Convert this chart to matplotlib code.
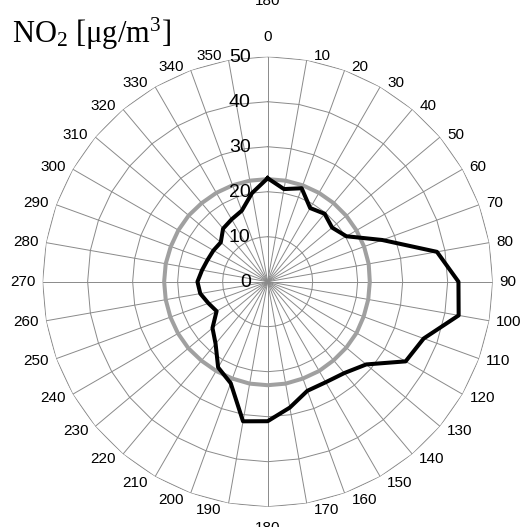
import numpy as np
import matplotlib.pyplot as plt
from matplotlib.transforms import offset_copy

plt.rcParams['font.family'] = ['Liberation Sans', 'DejaVu Sans']
plt.rcParams['mathtext.fontset'] = 'custom'
plt.rcParams['mathtext.rm'] = 'Liberation Serif'
plt.rcParams['mathtext.it'] = 'Liberation Serif:italic'

# wind direction sectors (deg) and NO2 concentrations
directions = [0, 10, 20, 30, 40, 50, 60, 70, 80, 90, 100, 110,
              120, 130, 140, 150, 160, 170, 180, 190, 200, 210, 220, 230,
              240, 250, 260, 270, 280, 290, 300, 310, 320, 330, 340, 350]
no2_by_dir = [23.0, 20.9, 22.1, 18.9, 19.7, 18.7, 20.2, 27.1, 38.2, 42.4, 43.1, 36.9,
              35.4, 28.6, 26.5, 25.8, 25.8, 28.4, 31.0, 31.5, 24.0, 22.0, 18.0, 16.0,
              13.1, 14.0, 15.2, 15.6, 14.8, 14.2, 13.9, 13.6, 15.4, 16.0, 16.8, 20.0]
no2_mean = [22.8, 22.8, 22.8, 22.8, 22.8, 22.8, 22.8, 22.8, 22.8, 22.7, 22.7, 22.7,
            22.8, 22.8, 22.8, 22.9, 22.9, 23.0, 23.0, 23.0, 22.9, 22.9, 22.9, 23.0,
            23.0, 23.0, 23.0, 23.0, 23.0, 22.9, 22.9, 22.9, 22.8, 22.8, 22.8, 22.8]
radial_ticks = [0, 10, 20, 30, 40, 50]

theta = np.deg2rad(directions)
theta_c = np.append(theta, theta[0])

fig = plt.figure(figsize=(5.29, 5.27), dpi=100)
ax = fig.add_axes([0.0806, 0.0366, 0.8507, 0.8577], projection='polar')
ax.set_theta_zero_location('N')
ax.set_theta_direction(-1)
ax.set_ylim(0, radial_ticks[-1])
ax.grid(False)
ax.spines['polar'].set_visible(False)
ax.set_xticks([])
ax.set_yticks([])

# polygon grid like a radar chart
grid_col = '#8a8a8a'
for r in radial_ticks[1:]:
    ax.plot(theta_c, [r] * len(theta_c), color=grid_col, lw=0.7, zorder=1)
for t in theta:
    ax.plot([t, t], [0, radial_ticks[-1]], color=grid_col, lw=0.7, zorder=1)

ax.plot(theta_c, np.append(no2_mean, no2_mean[0]), color='#a0a0a0', lw=2.9, zorder=3)
ax.plot(theta_c, np.append(no2_by_dir, no2_by_dir[0]), color='black', lw=2.9, zorder=4)

# direction labels placed outside the ring, excel style
for t, d in zip(theta, directions):
    s, c = np.sin(t), np.cos(t)
    if d == 0:
        ha, dx, dy = 'center', 0, 20
    elif d == 180:
        ha, dx, dy = 'center', 0, -21
    else:
        ha = 'left' if s > 0 else 'right'
        dx = 7 if s > 0 else -7
        dy = 4 * c if c > 0 else 7 * c
    tr = offset_copy(ax.transData, fig=fig, x=dx, y=dy, units='dots')
    ax.text(t, radial_ticks[-1], str(d), transform=tr, ha=ha, va='center', fontsize=11)

# radial value labels left of the north spoke
lab_tr = offset_copy(ax.transData, fig=fig, x=-17, y=-1, units='dots')
for r in radial_ticks:
    ax.text(0, r, str(r), transform=lab_tr, ha='right', va='center', fontsize=14)

fig.text(12 / 529, 1 - 43 / 527, r'NO$_2$ [μg/m$^3$]', fontsize=22,
         family='Liberation Serif', ha='left', va='baseline')
fig.text(267.7 / 529, 1 - 1 / 527, '180', ha='center', va='center', fontsize=11)

fig.savefig('out.png', dpi=100)
